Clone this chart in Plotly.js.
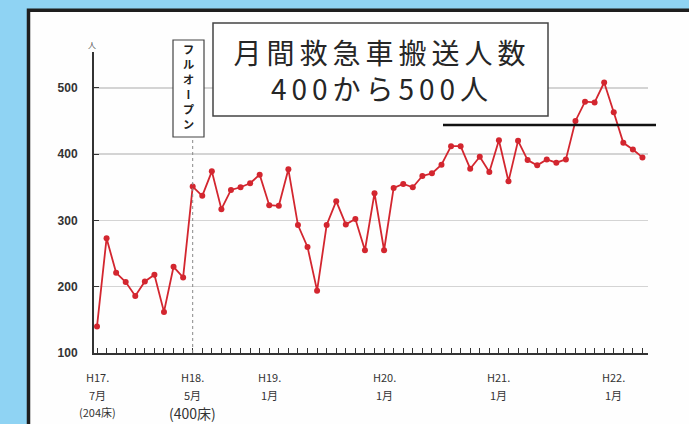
<!DOCTYPE html>
<html>
<head>
<meta charset="utf-8">
<script src="https://cdn.plot.ly/plotly-3.0.1.min.js"></script>
<style>
  html, body { margin: 0; padding: 0; background: #8fd3f3; }
  #chart { width: 689px; height: 424px; }
</style>
</head>
<body>
<div id="chart"></div>
<script>
// Monthly ambulance transports, H17.7 – H22.4
const months = [
  'H17.7','H17.8','H17.9','H17.10','H17.11','H17.12',
  'H18.1','H18.2','H18.3','H18.4','H18.5','H18.6','H18.7','H18.8','H18.9','H18.10','H18.11','H18.12',
  'H19.1','H19.2','H19.3','H19.4','H19.5','H19.6','H19.7','H19.8','H19.9','H19.10','H19.11','H19.12',
  'H20.1','H20.2','H20.3','H20.4','H20.5','H20.6','H20.7','H20.8','H20.9','H20.10','H20.11','H20.12',
  'H21.1','H21.2','H21.3','H21.4','H21.5','H21.6','H21.7','H21.8','H21.9','H21.10','H21.11','H21.12',
  'H22.1','H22.2','H22.3','H22.4'
];
const transports = [
  140, 273, 221, 207, 186, 208,
  218, 162, 230, 214, 351, 337, 374, 317, 346, 350, 356, 369,
  323, 322, 377, 293, 260, 194, 293, 329, 294, 302, 255, 341,
  255, 349, 355, 350, 367, 371, 384, 412, 412, 378, 396, 373,
  421, 359, 420, 391, 383, 392, 387, 392, 450, 479, 478, 508,
  463, 417, 407, 395
];
// labelled months and their label lines (era year / month / beds)
const labelledMonths = ['H17.7', 'H18.5', 'H19.1', 'H20.1', 'H21.1', 'H22.1'];
const labelLines = [
  ['H17.', '7月', '(204床)'],
  ['H18.', '5月', '(400床)'],
  ['H19.', '1月'],
  ['H20.', '1月'],
  ['H21.', '1月'],
  ['H22.', '1月']
];
const yTicks = [100, 200, 300, 400, 500];
const goalLevel = 444;
const fullOpenMonth = 'H18.5';
const titleLines = ['月間救急車搬送人数', '400から500人'];
const fullOpenText = 'フルオープン';

// plot-area frame in page pixels
const L = 94, R = 648, T = 52, B = 353, W = 689, H = 424;
const px = p => (p - L) / (R - L);
const py = p => (B - p) / (B - T);

const font = 'Noto Sans CJK JP, Noto Sans, sans-serif';

const trace = {
  x: months,
  y: transports,
  type: 'scatter',
  mode: 'lines+markers',
  line: { color: '#d3262f', width: 1.8 },
  marker: { color: '#d3262f', size: 6 },
  hoverinfo: 'skip'
};

// month labels under the axis, one annotation per line
const monthLabelAnnotations = [];
labelledMonths.forEach((m, i) => {
  labelLines[i].forEach((line, j) => {
    const big = line === '(400床)';
    monthLabelAnnotations.push({
      xref: 'x', yref: 'paper', x: m, y: py(377 + j * 17.5 + (big ? 1 : 0)),
      text: line, showarrow: false, xanchor: 'center', yanchor: 'middle',
      font: { size: big ? 14 : 11, color: '#333', family: font }
    });
  });
});

const layout = {
  width: W, height: H,
  margin: { l: L, r: W - R, t: T, b: H - B, pad: 0 },
  paper_bgcolor: '#8fd3f3',
  plot_bgcolor: 'rgba(0,0,0,0)',
  showlegend: false,
  font: { family: font, color: '#333' },
  xaxis: {
    type: 'category',
    range: [-0.313, 57.58],
    tickmode: 'array',
    tickvals: months,
    ticktext: months.map(() => ''),
    ticks: 'inside', ticklen: 5, tickwidth: 1, tickcolor: '#333',
    showline: true, linecolor: '#333', linewidth: 2,
    showgrid: false, zeroline: false, fixedrange: true
  },
  yaxis: {
    range: [100, 554],
    tickmode: 'array',
    tickvals: yTicks,
    ticks: 'inside', ticklen: 5, tickwidth: 1, tickcolor: '#333',
    ticklabelstandoff: 12,
    tickfont: { size: 12, color: '#333', family: 'Liberation Sans, Arial, sans-serif', weight: 'bold' },
    showline: true, linecolor: '#333', linewidth: 2,
    showgrid: true, gridcolor: '#d4d4d4', gridwidth: 1.5,
    zeroline: false, fixedrange: true
  },
  shapes: [
    // white panel with dark frame
    { type: 'rect', xref: 'paper', yref: 'paper', layer: 'below',
      x0: px(28.5), x1: px(720), y0: py(460), y1: py(10.3),
      fillcolor: '#fefefe', line: { color: '#1e1e1e', width: 3.5 } },
    // title box
    { type: 'rect', xref: 'paper', yref: 'paper',
      x0: px(213), x1: px(548), y0: py(116), y1: py(23),
      fillcolor: '#ffffff', line: { color: '#444', width: 1.5 } },
    // full-open label box
    { type: 'rect', xref: 'paper', yref: 'paper',
      x0: px(173), x1: px(204), y0: py(137), y1: py(40),
      fillcolor: '#ffffff', line: { color: '#444', width: 1.2 } },
    // full-open marker line
    { type: 'line', xref: 'x', yref: 'paper',
      x0: months.indexOf(fullOpenMonth), x1: months.indexOf(fullOpenMonth),
      y0: 0, y1: py(137),
      line: { color: '#888', width: 1, dash: 'dot' } },
    // goal level
    { type: 'line', xref: 'paper', yref: 'y',
      x0: px(443), x1: px(656), y0: goalLevel, y1: goalLevel,
      line: { color: '#111', width: 2.5 } }
  ],
  annotations: [
    { xref: 'paper', yref: 'paper', x: px(382), y: py(70), text: titleLines.join('<br>'),
      showarrow: false, xanchor: 'center', yanchor: 'middle',
      font: { size: 28, color: '#262626', family: font } },
    { xref: 'paper', yref: 'paper', x: px(188.5), y: py(88.5), text: fullOpenText,
      showarrow: false, xanchor: 'center', yanchor: 'middle',
      font: { size: 11.5, color: '#222', family: font, weight: 'bold' } },
    { xref: 'paper', yref: 'paper', x: px(92), y: py(44), text: '人',
      showarrow: false, xanchor: 'center', yanchor: 'middle',
      font: { size: 8, color: '#555', family: font } }
  ].concat(monthLabelAnnotations)
};

Plotly.newPlot('chart', [trace], layout, { displayModeBar: false, staticPlot: true }).then(gd => {
  const texts = gd.querySelectorAll('.annotation .annotation-text');
  // open up the title lettering
  if (texts[0]) texts[0].style.letterSpacing = '5px';
  // set the full-open label in vertical writing, centred in its box
  const v = texts[1];
  if (v) {
    v.setAttribute('x', 188.5);
    v.setAttribute('y', 88.5);
    v.removeAttribute('transform');
    v.style.writingMode = 'vertical-rl';
    v.style.textAnchor = 'middle';
    v.style.dominantBaseline = 'central';
    v.style.letterSpacing = '3.5px';
    // the parent groups carry the annotation offset; place text in page pixels
    let g = v.parentNode;
    while (g && !(g.classList && g.classList.contains('annotation'))) {
      if (g.getAttribute && g.getAttribute('transform')) g.removeAttribute('transform');
      g = g.parentNode;
    }
    if (g && g.getAttribute('transform')) g.removeAttribute('transform');
  }
});
</script>
</body>
</html>
